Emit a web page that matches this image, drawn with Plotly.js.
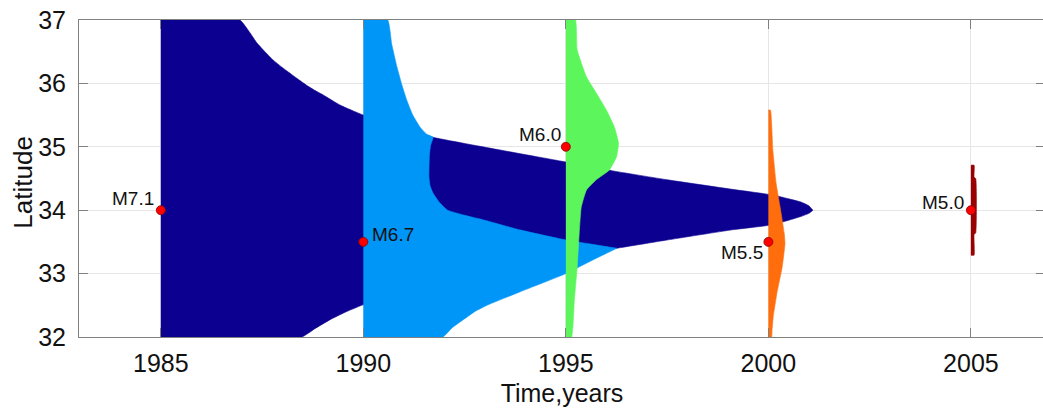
<!DOCTYPE html>
<html>
<head>
<meta charset="utf-8">
<script src="https://cdn.plot.ly/plotly-3.0.1.min.js"></script>
<style>
html,body{margin:0;padding:0;overflow:hidden;background:#fff;}
#chart{width:1060px;height:409px;}
</style>
</head>
<body>
<div id="chart"></div>
<script>
// ---- Data ----
// Events (markers + labels)
const evYear  = [1985, 1990, 1995, 2000, 2005];
const evLat   = [34, 33.5, 35, 33.5, 34];
const evLabel = ['M7.1', 'M6.7', 'M6.0', 'M5.5', 'M5.0'];

// M7.1 zone (navy): upper and lower boundaries
const navyTopX = [1985, 1986.95, 1987.2, 1987.37, 1987.57, 1987.77, 1987.98, 1988.19, 1988.4, 1988.6, 1988.8, 1989.0, 1989.42, 1990.0, 1991.0, 1991.72, 1993.37, 1995.0, 1996.16, 1997.5, 1999.1, 2000.1, 2000.8, 2001.0, 2001.1];
const navyTopY = [37, 37, 36.8, 36.64, 36.5, 36.37, 36.26, 36.16, 36.06, 35.97, 35.89, 35.82, 35.66, 35.5, 35.3, 35.15, 34.95, 34.76, 34.62, 34.48, 34.33, 34.24, 34.13, 34.07, 34.0];
const navyBotX = [1985, 1988.48, 1988.8, 1989.17, 1989.55, 1989.96, 1991, 1992, 1993, 1994, 1995, 1996.26, 1997.5, 1999.1, 2000.1, 2000.8, 2001.0, 2001.1];
const navyBotY = [32, 32, 32.13, 32.27, 32.39, 32.5, 32.7, 32.85, 33.0, 33.15, 33.27, 33.4, 33.53, 33.69, 33.77, 33.9, 33.95, 34.0];

// M6.7 zone (light blue): upper and lower boundaries
const lbTopX = [1990, 1990.6, 1990.7, 1990.83, 1990.95, 1991.07, 1991.22, 1991.4, 1991.56, 1991.72, 1991.66, 1991.63, 1991.62, 1991.65, 1991.72, 1991.88, 1992.08, 1992.5, 1992.95, 1993.86, 1995.0, 1996.26];
const lbTopY = [37, 37, 36.62, 36.26, 35.98, 35.74, 35.5, 35.31, 35.2, 35.15, 35.02, 34.85, 34.52, 34.38, 34.27, 34.12, 34.0, 33.92, 33.85, 33.69, 33.53, 33.4];
const lbBotX = [1990, 1991.96, 1992.2, 1992.46, 1992.75, 1993.05, 1993.86, 1995.0, 1995.65, 1996.26];
const lbBotY = [32, 32, 32.15, 32.27, 32.4, 32.5, 32.71, 33.0, 33.21, 33.4];

// M6.0 zone (green): width (years) to the right of 1995 at each latitude
const greenLat   = [37, 36.53, 36.1, 35.85, 35.58, 35.31, 35.06, 34.84, 34.63, 34.48, 34.32, 34.05, 33.64, 33.1, 32.58, 32.0];
const greenWidth = [0.235, 0.28, 0.51, 0.75, 1.0, 1.2, 1.3, 1.25, 1.07, 0.75, 0.51, 0.38, 0.33, 0.28, 0.21, 0.14];

// M5.5 zone (orange): width to the right of 2000
const orangeLat   = [35.58, 34.95, 34.43, 34.05, 33.64, 33.48, 33.1, 32.69, 32.32, 32.1, 32.0];
const orangeWidth = [0.05, 0.11, 0.19, 0.29, 0.39, 0.41, 0.34, 0.21, 0.12, 0.09, 0.08];

// M5.0 zone (dark red): width to the right of 2005
const redLat   = [34.71, 34.52, 34.5, 33.64, 33.62, 33.29];
const redWidth = [0.08, 0.08, 0.12, 0.12, 0.08, 0.08];

const xTicks = [1985, 1990, 1995, 2000, 2005];
const yTicks = [32, 33, 34, 35, 36, 37];

// ---- Build polygons ----
function bandPoly(topX, topY, botX, botY) {
  return {
    x: topX.concat(botX.slice().reverse()),
    y: topY.concat(botY.slice().reverse())
  };
}
function sidePoly(base, lat, width) {
  const x = [base].concat(lat.map((l, i) => base + width[i])).concat([base]);
  const y = [lat[0]].concat(lat).concat([lat[lat.length - 1]]);
  return {x, y};
}
function zone(p, color) {
  return {
    type: 'scatter', mode: 'lines', x: p.x, y: p.y,
    fill: 'toself', fillcolor: color, line: {width: 0.6, color: color, shape: 'spline', smoothing: 0.4},
    hoverinfo: 'skip', showlegend: false
  };
}

const FONT = 'Liberation Sans, Arial, Helvetica, sans-serif';

const traces = [
  zone(bandPoly(navyTopX, navyTopY, navyBotX, navyBotY), '#0b008f'),
  zone(bandPoly(lbTopX, lbTopY, lbBotX, lbBotY), '#0096f7'),
  zone(sidePoly(evYear[2], greenLat, greenWidth), '#5cf65c'),
  zone(sidePoly(evYear[3], orangeLat, orangeWidth), '#ff6d0c'),
  zone(sidePoly(evYear[4], redLat, redWidth), '#9a0000'),
  {
    type: 'scatter', mode: 'markers', x: evYear, y: evLat,
    marker: {size: 9, color: '#ff0000', line: {color: '#8a0000', width: 0.8}},
    hoverinfo: 'skip', showlegend: false
  }
];

const labelPlace = [
  {xanchor: 'right', xshift: -5, yshift: 12},
  {xanchor: 'left',  xshift: 7,  yshift: 7},
  {xanchor: 'right', xshift: -3, yshift: 12},
  {xanchor: 'right', xshift: -3, yshift: -11},
  {xanchor: 'right', xshift: -5, yshift: 8}
];
const annotations = evLabel.map((t, i) => Object.assign({
  x: evYear[i], y: evLat[i], xref: 'x', yref: 'y', text: t, showarrow: false,
  yanchor: 'middle', font: {family: FONT, size: 19, color: '#111'}
}, labelPlace[i]));
// axis title for latitude
annotations.push({
  xref: 'paper', yref: 'paper', x: -0.058, y: 0.49, xanchor: 'center', yanchor: 'middle',
  text: 'Latitude', textangle: -90, showarrow: false,
  font: {family: FONT, size: 26, color: '#111'}
});

const axisCommon = {
  showline: true, linecolor: '#808080', linewidth: 1, mirror: 'ticks',
  ticks: 'inside', ticklen: 9, tickcolor: '#808080', tickwidth: 1,
  showgrid: true, gridcolor: '#e6e6e6', gridwidth: 1, zeroline: false,
  tickfont: {family: FONT, size: 25, color: '#111'}
};

const layout = {
  width: 1060, height: 409,
  margin: {l: 79, r: 15, t: 20, b: 72},
  paper_bgcolor: '#fff', plot_bgcolor: '#fff',
  xaxis: Object.assign({}, axisCommon, {
    range: [1982.98, 2006.83], tickvals: xTicks, ticktext: xTicks.map(String),
    ticklabelstandoff: 4,
    title: {text: 'Time,years', font: {family: FONT, size: 25, color: '#111'}, standoff: 8}
  }),
  yaxis: Object.assign({}, axisCommon, {
    range: [32, 37], tickvals: yTicks, ticktext: yTicks.map(String),
    ticklabelstandoff: 7
  }),
  annotations: annotations
};

Plotly.newPlot('chart', traces, layout, {staticPlot: true, displayModeBar: false});
</script>
</body>
</html>
